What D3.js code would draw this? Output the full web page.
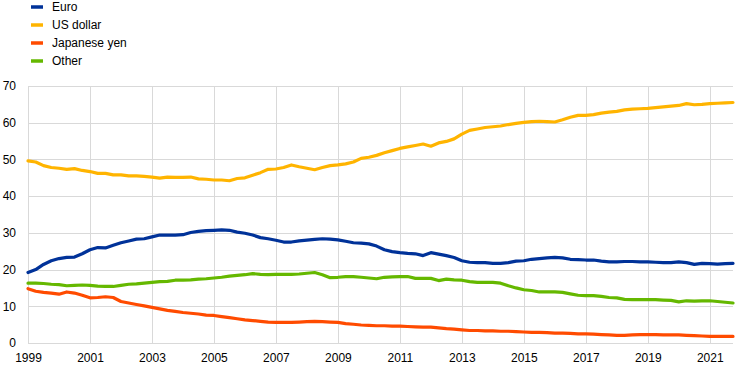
<!DOCTYPE html>
<html>
<head>
<meta charset="utf-8">
<script src="https://cdn.jsdelivr.net/npm/d3@7"></script>
<style>
  body { margin: 0; background: #fff; }
  svg { display: block; font-family: Arial, "Liberation Sans", sans-serif; }
  .tick-label { font-size: 12px; fill: #000; }
  .legend-text { font-size: 12px; fill: #000; }
</style>
</head>
<body>
<svg id="chart" width="744" height="371"></svg>
<script>
// quarterly shares, 1999 Q1 .. 2021 Q4
const startYear = 1999;

const euro = [
  19.2, 20.0, 21.4, 22.4,  23.0, 23.3, 23.4, 24.3,  25.4, 26.0, 25.9, 26.6,
  27.3, 27.8, 28.3, 28.4,  28.9, 29.4, 29.4, 29.4,  29.5, 30.1, 30.4, 30.6,
  30.7, 30.8, 30.7, 30.2,  29.9, 29.4, 28.7, 28.4,  28.0, 27.5, 27.5, 27.8,
  28.0, 28.2, 28.4, 28.3,  28.1, 27.7, 27.3, 27.2,  27.0, 26.4, 25.4, 24.9,
  24.6, 24.4, 24.3, 23.8,  24.6, 24.2, 23.8, 23.3,  22.4, 22.0, 21.9, 21.9,
  21.7, 21.7, 21.9, 22.3,  22.4, 22.8, 23.0, 23.2,  23.3, 23.2, 22.8, 22.7,
  22.6, 22.6, 22.3, 22.1,  22.1, 22.2, 22.2, 22.1,  22.1, 22.0, 21.9, 21.9,
  22.1, 21.9, 21.4, 21.7,  21.6, 21.5, 21.6, 21.7
];

const usDollar = [
  49.6, 49.3, 48.3, 47.8,  47.6, 47.3, 47.5, 47.0,  46.7, 46.2, 46.2, 45.8,
  45.8, 45.5, 45.5, 45.4,  45.2, 44.9, 45.2, 45.1,  45.1, 45.2, 44.7, 44.6,
  44.4, 44.4, 44.2, 44.8,  45.0, 45.7, 46.4, 47.3,  47.4, 47.8, 48.5, 48.0,
  47.6, 47.2, 47.8, 48.3,  48.5, 48.8, 49.3, 50.3,  50.6, 51.1, 51.8, 52.4,
  53.0, 53.4, 53.8, 54.2,  53.6, 54.5, 54.9, 55.6,  56.9, 57.9, 58.3, 58.7,
  58.9, 59.1, 59.5, 59.8,  60.1, 60.3, 60.4, 60.3,  60.2, 60.8, 61.5, 62.0,
  62.0, 62.2, 62.6, 62.9,  63.1, 63.5, 63.7, 63.8,  63.9, 64.1, 64.3, 64.5,
  64.7, 65.2, 64.9, 65.0,  65.2, 65.3, 65.4, 65.5
];

const japaneseYen = [
  14.8, 14.1, 13.8, 13.6,  13.3, 13.9, 13.6, 13.0,  12.3, 12.4, 12.6, 12.4,
  11.3, 10.9, 10.5, 10.1,   9.7,  9.3,  8.9,  8.6,   8.3,  8.1,  7.9,  7.6,
   7.5,  7.2,  6.9,  6.6,   6.3,  6.1,  5.9,  5.7,   5.6,  5.6,  5.6,  5.7,
   5.8,  5.9,  5.8,  5.7,   5.6,  5.3,  5.1,  4.9,   4.8,  4.7,  4.7,  4.6,
   4.6,  4.5,  4.4,  4.3,   4.3,  4.1,  3.9,  3.8,   3.6,  3.4,  3.4,  3.3,
   3.3,  3.2,  3.2,  3.1,   3.0,  2.9,  2.9,  2.8,   2.7,  2.7,  2.6,  2.5,
   2.5,  2.4,  2.3,  2.2,   2.1,  2.1,  2.2,  2.3,   2.3,  2.3,  2.2,  2.2,
   2.2,  2.1,  2.0,  1.9,   1.8,  1.8,  1.8,  1.8
];

const other = [
  16.3, 16.3, 16.2, 16.0,  15.9, 15.6, 15.7, 15.8,  15.7, 15.5, 15.4, 15.4,
  15.7, 16.0, 16.1, 16.3,  16.5, 16.7, 16.8, 17.1,  17.1, 17.2, 17.4, 17.5,
  17.7, 17.9, 18.2, 18.4,  18.6, 18.9, 18.7, 18.6,  18.7, 18.7, 18.7, 18.8,
  19.0, 19.2, 18.6, 17.8,  17.9, 18.1, 18.1, 17.9,  17.7, 17.5, 17.9, 18.0,
  18.1, 18.1, 17.6, 17.6,  17.6, 17.0, 17.4, 17.2,  17.1, 16.7, 16.5, 16.5,
  16.5, 16.3, 15.6, 15.0,  14.5, 14.3, 13.9, 13.9,  13.9, 13.8, 13.4, 13.0,
  12.9, 12.9, 12.7, 12.4,  12.3, 11.9, 11.8, 11.8,  11.8, 11.8, 11.7, 11.6,
  11.2, 11.5, 11.4, 11.5,  11.5, 11.3, 11.1, 10.9
];

const seriesNames = ['Euro', 'US dollar', 'Japanese yen', 'Other'];
const seriesColors = ['#003299', '#ffb400', '#ff4b00', '#65b800'];
const seriesValues = [euro, usDollar, japaneseYen, other];

const yTicks = [0, 10, 20, 30, 40, 50, 60, 70];
const xTicks = [1999, 2001, 2003, 2005, 2007, 2009, 2011, 2013, 2015, 2017, 2019, 2021];

// plot box
const margin = { top: 86, bottom: 28, left: 28, right: 11 };
const width = 744;
const height = 371;

const svg = d3.select('#chart');

const x = d3.scaleLinear()
  .domain([1999, 2021.75])
  .range([margin.left, width - margin.right]);

const y = d3.scaleLinear()
  .domain([0, 70])
  .range([height - margin.bottom, margin.top]);

// grid
const grid = svg.append('g').attr('id', 'grid');

grid.selectAll('line.h')
  .data(yTicks)
  .enter().append('line')
  .attr('class', 'h')
  .attr('x1', x.range()[0])
  .attr('x2', x.range()[1])
  .attr('y1', d => Math.round(y(d)) + 0.5)
  .attr('y2', d => Math.round(y(d)) + 0.5)
  .attr('stroke', '#d9d9d9')
  .attr('stroke-width', 1);

grid.selectAll('line.v')
  .data(xTicks)
  .enter().append('line')
  .attr('class', 'v')
  .attr('x1', d => Math.round(x(d)) + 0.5)
  .attr('x2', d => Math.round(x(d)) + 0.5)
  .attr('y1', y.range()[1])
  .attr('y2', y.range()[0])
  .attr('stroke', '#d9d9d9')
  .attr('stroke-width', 1);

// axis labels
const yAxis = d3.axisLeft(y)
  .tickValues(yTicks)
  .tickSize(0)
  .tickPadding(12);

const yGroup = svg.append('g')
  .attr('transform', translate(margin.left, 0))
  .call(yAxis);
yGroup.select('.domain').remove();
yGroup.selectAll('text').attr('class', 'tick-label').attr('font-size', null).attr('font-family', null);

const xAxis = d3.axisBottom(x)
  .tickValues(xTicks)
  .tickFormat(d3.format('d'))
  .tickSize(0)
  .tickPadding(10);

const xGroup = svg.append('g')
  .attr('transform', translate(0, height - margin.bottom))
  .call(xAxis);
xGroup.select('.domain').remove();
xGroup.selectAll('text').attr('class', 'tick-label').attr('font-size', null).attr('font-family', null);

// lines
const line = d3.line()
  .x((d, i) => x(startYear + i / 4))
  .y(d => y(d));

const lines = svg.append('g').attr('id', 'lines');

// draw order: other, yen, dollar, euro on top
[3, 2, 1, 0].forEach(k => {
  lines.append('path')
    .datum(seriesValues[k])
    .attr('fill', 'none')
    .attr('stroke', seriesColors[k])
    .attr('stroke-width', 3.2)
    .attr('stroke-linejoin', 'round')
    .attr('stroke-linecap', 'round')
    .attr('d', line);
});

// legend
const legend = svg.append('g').attr('id', 'legend');
const legendY = d3.scalePoint().domain(seriesNames).range([7, 61]);

const items = legend.selectAll('g')
  .data(seriesNames)
  .enter().append('g')
  .attr('transform', d => translate(0, legendY(d)));

items.append('line')
  .attr('x1', 31)
  .attr('x2', 43)
  .attr('y1', 0)
  .attr('y2', 0)
  .attr('stroke', (d, i) => seriesColors[i])
  .attr('stroke-width', 3.5);

items.append('text')
  .attr('class', 'legend-text')
  .attr('x', 52)
  .attr('dy', '0.35em')
  .text(d => d);

function translate(x, y) {
  return 'translate(' + String(x) + ',' + String(y) + ')';
}
</script>
</body>
</html>
